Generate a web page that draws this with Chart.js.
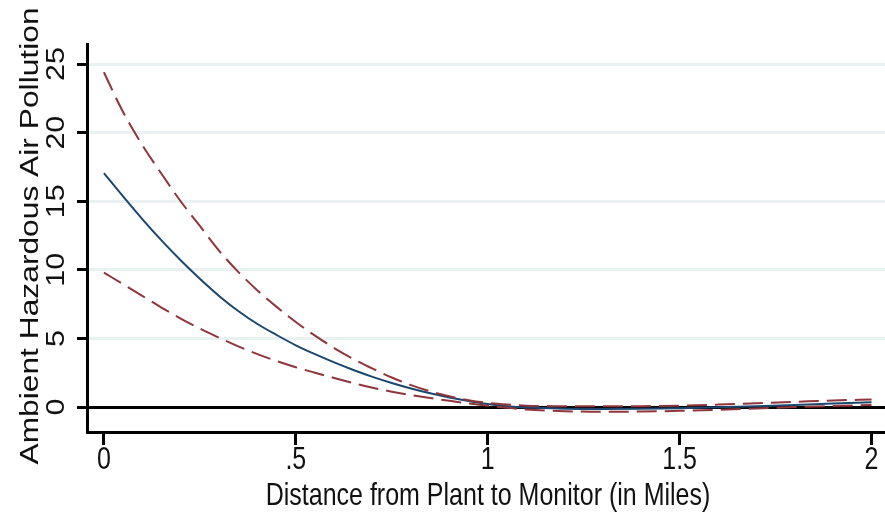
<!DOCTYPE html>
<html>
<head>
<meta charset="utf-8">
<script src="https://cdn.jsdelivr.net/npm/chart.js@4.4.1/dist/chart.umd.min.js"></script>
<style>
  html, body { margin: 0; padding: 0; background: #fff; }
  #wrap { width: 885px; height: 513px; }
</style>
</head>
<body>
<div id="wrap"><canvas id="distchart" width="885" height="513"></canvas></div>
<script>
// distance (miles) and the fitted pollution curve with its confidence band
var distance = [0, 0.05, 0.1, 0.15, 0.2, 0.25, 0.3, 0.35, 0.4, 0.45, 0.5, 0.55, 0.6, 0.65, 0.7, 0.75,
                0.8, 0.85, 0.9, 0.95, 1, 1.05, 1.1, 1.2, 1.3, 1.4, 1.5, 1.6, 1.7, 1.8, 1.9, 2];
var fitted = [17.05, 15.35, 13.7, 12.15, 10.7, 9.35, 8.1, 7.0, 6.05, 5.25, 4.5, 3.85, 3.25, 2.7, 2.2, 1.75,
              1.35, 1.0, 0.7, 0.44, 0.22, 0.06, -0.04, -0.12, -0.14, -0.12, -0.08, -0.02, 0.06, 0.15, 0.25, 0.35];
var ciUpper = [24.4, 21.5, 19.1, 17.0, 15.0, 13.2, 11.4, 9.85, 8.5, 7.3, 6.2, 5.2, 4.3, 3.5, 2.8, 2.15,
               1.6, 1.15, 0.78, 0.5, 0.3, 0.18, 0.1, 0.06, 0.05, 0.06, 0.1, 0.18, 0.28, 0.38, 0.48, 0.55];
var ciLower = [9.8, 8.95, 8.1, 7.25, 6.45, 5.72, 5.05, 4.42, 3.86, 3.35, 2.9, 2.5, 2.12, 1.74, 1.4, 1.12,
               0.87, 0.65, 0.45, 0.27, 0.1, -0.05, -0.18, -0.3, -0.35, -0.33, -0.28, -0.2, -0.1, 0.0, 0.08, 0.15];

var xTicks = [0, 0.5, 1, 1.5, 2];
var xTickLabels = ["0", ".5", "1", "1.5", "2"];
var yTicks = [0, 5, 10, 15, 20, 25];
var yTickLabels = ["0", "5", "10", "15", "20", "25"];
var xTitle = "Distance from Plant to Monitor (in Miles)";
var yTitle = "Ambient Hazardous Air Pollution";

function pairs(ys) {
  return distance.map(function (d, i) { return { x: d, y: ys[i] }; });
}

// text is drawn a bit taller than the font, like the exported graph
var FONT = '25px "Liberation Sans", Arial, sans-serif';
var STRETCH = 1.22;

function stretchedText(ctx, text, x, y, vertical, stretch) {
  var k = stretch || STRETCH;
  ctx.save();
  ctx.translate(x, y);
  if (vertical) {
    ctx.rotate(-Math.PI / 2);
    ctx.scale(k, 1);
  } else {
    ctx.scale(1, k);
  }
  ctx.fillText(text, 0, 0);
  ctx.restore();
}

var axisText = {
  id: 'axisText',
  afterDraw: function (chart) {
    var ctx = chart.ctx;
    var area = chart.chartArea;
    var xs = chart.scales.x, ys = chart.scales.y;
    ctx.save();
    ctx.fillStyle = '#111';
    ctx.font = FONT;
    ctx.textAlign = 'center';
    ctx.textBaseline = 'alphabetic';
    xTicks.forEach(function (v, i) {
      stretchedText(ctx, xTickLabels[i], xs.getPixelForValue(v), 469, false);
    });
    yTicks.forEach(function (v, i) {
      stretchedText(ctx, yTickLabels[i], 64, ys.getPixelForValue(v), true);
    });
    stretchedText(ctx, xTitle, (area.left + area.right) / 2 + 2, 505, false);
    stretchedText(ctx, yTitle, 38, (area.top + area.bottom) / 2 - 2, true, 1.27);
    ctx.restore();
  }
};

var ctx = document.getElementById('distchart').getContext('2d');
window.distChart = new Chart(ctx, {
  type: 'line',
  data: {
    datasets: [{
      label: 'Upper CI',
      data: pairs(ciUpper),
      borderColor: '#90353b',
      borderWidth: 2,
      borderDash: [20, 8],
      pointRadius: 0,
      fill: false,
      cubicInterpolationMode: 'monotone'
    }, {
      label: 'Lower CI',
      data: pairs(ciLower),
      borderColor: '#90353b',
      borderWidth: 2,
      borderDash: [20, 8],
      pointRadius: 0,
      fill: false,
      cubicInterpolationMode: 'monotone'
    }, {
      label: 'Fitted',
      data: pairs(fitted),
      borderColor: '#1a476f',
      borderWidth: 2,
      pointRadius: 0,
      fill: false,
      cubicInterpolationMode: 'monotone'
    }]
  },
  options: {
    responsive: false,
    animation: false,
    layout: { padding: { top: 44, left: 0, right: 0, bottom: 0 } },
    plugins: {
      legend: { display: false },
      tooltip: { enabled: false }
    },
    scales: {
      x: {
        type: 'linear',
        min: -0.044,
        max: 2.035,
        afterBuildTicks: function (s) { s.ticks = xTicks.map(function (v) { return { value: v }; }); },
        afterFit: function (s) { s.height = 81; },
        ticks: { display: false },
        grid: { drawOnChartArea: false, drawTicks: true, tickLength: 13, tickWidth: 3, tickColor: '#000' },
        border: { display: true, color: '#000', width: 3 }
      },
      y: {
        type: 'linear',
        min: -1.82,
        max: 26.46,
        afterBuildTicks: function (s) { s.ticks = yTicks.map(function (v) { return { value: v }; }); },
        afterFit: function (s) { s.width = 87; },
        ticks: { display: false },
        grid: {
          color: function (c) { return c.tick && c.tick.value === 0 ? '#000' : '#eaf1f3'; },
          lineWidth: 3,
          drawTicks: true,
          tickLength: 10,
          tickWidth: 3,
          tickColor: '#000'
        },
        border: { display: true, color: '#000', width: 3 }
      }
    }
  },
  plugins: [axisText]
});
</script>
</body>
</html>
